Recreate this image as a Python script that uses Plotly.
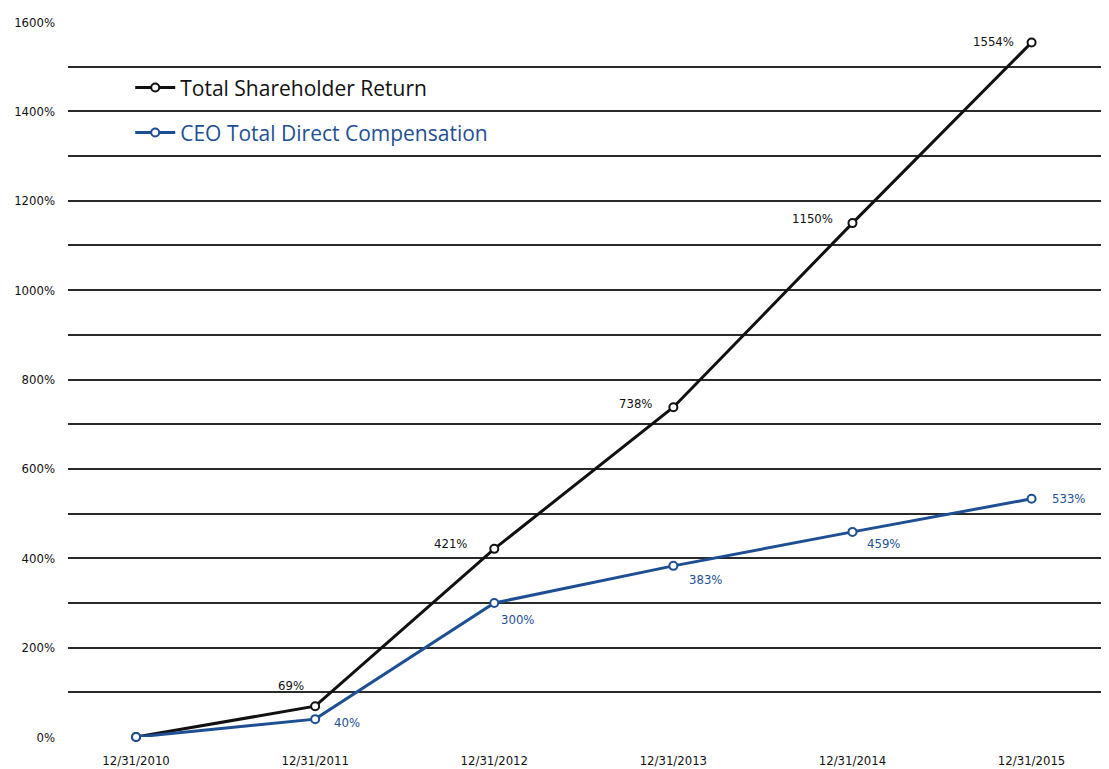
import plotly.graph_objects as go

categories = ["12/31/2010", "12/31/2011", "12/31/2012", "12/31/2013", "12/31/2014", "12/31/2015"]
tsr = [0, 69, 421, 738, 1150, 1554]
ceo = [0, 40, 300, 383, 459, 533]
tsr_labels = ["", "69%", "421%", "738%", "1150%", "1554%"]
ceo_labels = ["", "40%", "300%", "383%", "459%", "533%"]

# label offsets in pixels (dx right, dy down) relative to the data point
tsr_off = [(0, 0), (-24, -21), (-44, -5), (-38, -4), (-40, -5), (-38, -1)]
ceo_off = [(0, 0), (32, 3), (23, 17), (32, 14), (31, 12), (37, 0)]

BLACK = "#111111"
BLUE = "#1e4f93"
FONT = "DejaVu Sans Condensed, Liberation Sans Narrow, Arial Narrow, sans-serif"
LEGFONT = "Open Sans, Noto Sans, sans-serif"
xs = list(range(len(categories)))

fig = go.Figure()
fig.add_trace(go.Scatter(
    x=xs, y=tsr, name="Total Shareholder Return", mode="lines+markers",
    line=dict(color=BLACK, width=3),
    marker=dict(symbol="circle", size=8, color="white", line=dict(color=BLACK, width=2)),
    legend="legend", cliponaxis=False,
))
fig.add_trace(go.Scatter(
    x=xs, y=ceo, name="CEO Total Direct Compensation", mode="lines+markers",
    line=dict(color=BLUE, width=3),
    marker=dict(symbol="circle", size=8, color="white", line=dict(color=BLUE, width=2)),
    legend="legend2", cliponaxis=False,
))

for vals, labels, offs, col in [(tsr, tsr_labels, tsr_off, BLACK), (ceo, ceo_labels, ceo_off, BLUE)]:
    for xi, v, t, (dx, dy) in zip(xs, vals, labels, offs):
        if not t:
            continue
        fig.add_annotation(x=xi, y=v, text=t, showarrow=False, xshift=dx, yshift=-dy,
                           font=dict(family=FONT, size=13, color=col))

legend_common = dict(bgcolor="rgba(0,0,0,0)", xanchor="left", yanchor="middle",
                     itemwidth=40, traceorder="normal")
fig.update_layout(
    width=1101, height=761,
    margin=dict(l=60, r=4, t=14, b=32),
    plot_bgcolor="white", paper_bgcolor="white",
    showlegend=True,
    legend=dict(x=0.06, y=0.908, font=dict(family=LEGFONT, size=21, color=BLACK), **legend_common),
    legend2=dict(x=0.06, y=0.845, font=dict(family=LEGFONT, size=21, color=BLUE), **legend_common),
    xaxis=dict(range=[-0.38, 5.41], tickvals=xs, ticktext=categories, showgrid=False,
               zeroline=False, showline=False, ticks="", ticklabelstandoff=14, automargin=False,
               tickfont=dict(family=FONT, size=13, color=BLACK)),
    yaxis=dict(range=[0, 1600], dtick=200, tickformat="d", ticksuffix="%",
               showgrid=True, gridcolor="#2a2a2a", gridwidth=2, zeroline=False,
               showline=False, ticks="", ticklabelstandoff=12, automargin=False,
               minor=dict(dtick=100, showgrid=True, gridcolor="#2a2a2a", gridwidth=2),
               tickfont=dict(family=FONT, size=13, color=BLACK)),
)

fig.write_html("out.html")
